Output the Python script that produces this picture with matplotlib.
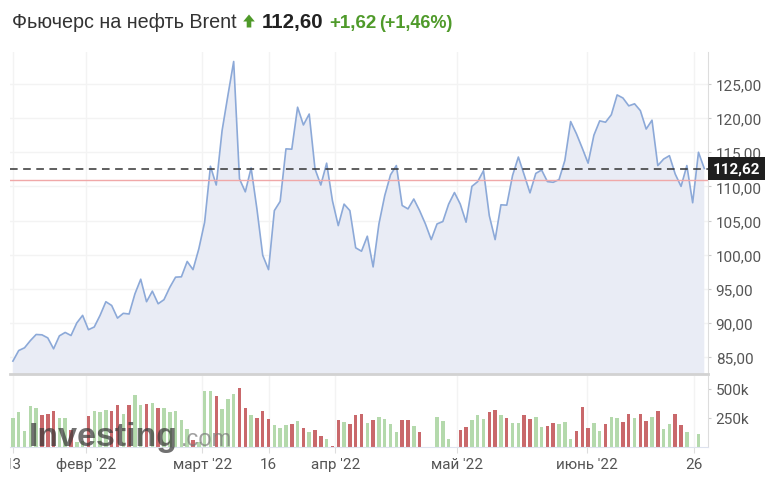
import numpy as np
import matplotlib.pyplot as plt
from matplotlib.patches import Polygon
from matplotlib.transforms import blended_transform_factory, Bbox, TransformedBbox, IdentityTransform

plt.rcParams['font.family'] = ['Roboto', 'DejaVu Sans']

# дневные цены закрытия (с 13 янв. по конец июня 2022)
price = [84.4, 85.95, 86.35, 87.4, 88.3, 88.25, 87.8, 86.2, 88.1, 88.6,
         88.15, 90.0, 91.1, 89.0, 89.4, 91.1, 93.1, 92.55, 90.7, 91.4,
         91.3, 94.25, 96.4, 93.1, 94.65, 92.8, 93.4, 95.2, 96.7, 96.75,
         99.0, 97.8, 100.85, 104.75, 112.95, 110.2, 118.15, 123.3, 128.3, 111.1,
         109.2, 112.7, 106.7, 99.9, 97.8, 106.45, 107.8, 115.5, 115.45, 121.6,
         119.0, 120.6, 112.55, 110.2, 113.4, 107.9, 104.25, 107.4, 106.45, 101.0,
         100.5, 102.7, 98.2, 104.5, 108.65, 111.7, 113.05, 107.2, 106.7, 108.15,
         106.45, 104.5, 102.2, 104.5, 104.85, 107.4, 109.1, 107.4, 104.75, 110.0,
         110.7, 112.3, 105.7, 102.2, 107.3, 107.25, 111.6, 114.3, 111.7, 109.05,
         111.9, 112.4, 110.7, 110.6, 111.0, 113.8, 119.5, 117.7, 115.6, 113.4,
         117.5, 119.6, 119.4, 120.5, 123.4, 122.95, 121.8, 122.1, 121.1, 118.4,
         119.7, 113.05, 114.0, 114.5, 111.8, 110.0, 113.05, 107.6, 115.0, 112.62]

# объём, тыс. контрактов
volume_k = [253, 299, 135, 351, 335, 276, 284, 308, 253, 253,
            150, 40, 55, 264, 307, 299, 319, 307, 365, 284,
            365, 448, 365, 374, 379, 336, 336, 300, 307, 236,
            155, 57, 40, 480, 480, 442, 328, 414, 457, 509,
            336, 276, 250, 307, 241, 187, 164, 190, 198, 221,
            164, 126, 146, 92, 69, 6, 233, 213, 198, 276,
            284, 207, 233, 261, 241, 198, 126, 233, 233, 178,
            126, 0, 0, 261, 221, 69, 4, 146, 175, 233,
            276, 241, 299, 319, 276, 250, 207, 207, 276, 241,
            261, 175, 184, 207, 198, 218, 69, 135, 348, 164,
            207, 135, 198, 261, 250, 213, 284, 250, 284, 221,
            261, 307, 155, 198, 284, 190, 126, 0, 112, 0]

tick_pos = [0, 12.6, 32.6, 44.0, 55.5, 76.5, 98.8, 117.2]
tick_labels = ["13", "февр '22", "март '22", "16", "апр '22", "май '22", "июнь '22", "26"]
price_ticks = [85, 90, 95, 100, 105, 110, 115, 120, 125]
vol_ticks = [250, 500]
last_price = 112.62
prev_close = 110.98

W, H = 776, 485
fig = plt.figure(figsize=(W / 100, H / 100), dpi=100)


def px_box(l, t, r, b):
    return [l / W, 1 - b / H, (r - l) / W, (b - t) / H]


def fx(x):
    return x / W


def fy(y):
    return 1 - y / H


ax = fig.add_axes(px_box(10, 53, 708, 375))
axv = fig.add_axes(px_box(10, 377, 708, 448), sharex=ax)

x = np.arange(len(price))

# цена
ax.fill_between(x, price, 0, color='#e9ecf5', lw=0)
ax.plot(x, price, color='#8ca9d8', lw=1.2)
ax.axhline(prev_close, color='#f0a8a8', lw=1)
ax.axhline(last_price, color='#333333', lw=1.1, dashes=(5, 3.6))

ax.set_xlim(-0.5, 119.64)
ax.set_ylim(82.51, 129.69)
ax.set_yticks(price_ticks)
ax.set_yticklabels([f"{v:.2f}".replace('.', ',') for v in price_ticks])
ax.yaxis.tick_right()
ax.tick_params(axis='y', length=2.5, color='#cccccc', labelcolor='#555555', labelsize=11, pad=3)
ax.tick_params(axis='x', bottom=False, labelbottom=False)
ax.grid(color='#f3f3f3', lw=1)
ax.set_axisbelow(True)
for s in ['top', 'left']:
    ax.spines[s].set_visible(False)
ax.spines['right'].set_color('#dddddd')
ax.spines['bottom'].set_color('#d2d2d2')
ax.spines['bottom'].set_linewidth(2)

blend = blended_transform_factory(ax.transAxes, ax.transData)
ax.annotate("112,62", xy=(1.0, last_price), xycoords=blend, xytext=(3.6, 0),
            textcoords='offset points', ha='left', va='center', color='white',
            fontsize=11, fontweight='bold', annotation_clip=False, zorder=6,
            bbox=dict(boxstyle='square,pad=0.3', fc='#1f1f1f', ec='none'))

# объём
colors = ['#b4d9ac' if i == 0 or price[i] >= price[i - 1] else '#c9686b' for i in range(len(price))]
axv.bar(x, volume_k, width=0.6, color=colors, lw=0)
axv.set_ylim(0, 612)
axv.set_yticks(vol_ticks)
axv.set_yticklabels([f"{v}k" for v in vol_ticks])
axv.yaxis.tick_right()
axv.tick_params(axis='y', length=2.5, color='#cccccc', labelcolor='#555555', labelsize=11, pad=3)
axv.set_xticks(tick_pos)
axv.set_xticklabels(tick_labels)
axv.tick_params(axis='x', length=4.5, color='#dddddd', labelcolor='#555555', labelsize=11, pad=3)
axv.grid(axis='x', color='#f3f3f3', lw=1)
axv.set_axisbelow(True)
for s in ['top', 'left']:
    axv.spines[s].set_visible(False)
axv.spines['right'].set_color('#dddddd')
axv.spines['bottom'].set_color('#dde2ee')

# у левого края подпись обрезана
clip = TransformedBbox(Bbox.from_extents(10, 0, W, H), IdentityTransform())
first = axv.xaxis.get_major_ticks()[0]
first.label1.set_clip_on(True)
first.label1.set_clip_box(clip)

# водяной знак
fig.text(fx(29), fy(446), "Investing", fontsize=24.5, fontweight='bold',
         family='Liberation Sans', color='#3a3a3a', alpha=0.72, va='baseline')
fig.text(fx(181), fy(446), ".com", fontsize=17, family='Liberation Sans',
         color='#777777', alpha=0.7, va='baseline')

# заголовок
fig.text(fx(12), fy(27.7), "Фьючерс на нефть Brent", fontsize=14.2, family='Liberation Sans',
         color='#333333', va='baseline')
arrow = [(249, 15.5), (254.8, 22.5), (251.3, 22.5), (251.3, 28.5), (246.7, 28.5), (246.7, 22.5), (243.2, 22.5)]
fig.add_artist(Polygon([(fx(a), fy(b)) for a, b in arrow], closed=True,
                       transform=fig.transFigure, color='#4f9a2a', lw=0))
fig.text(fx(262), fy(27.7), "112,60", fontsize=14.8, fontweight='bold', family='Liberation Sans',
         color='#222222', va='baseline')
fig.text(fx(329), fy(27.7), "+1,62", fontsize=13.5, fontweight='bold', family='Liberation Sans',
         color='#4f9a2a', va='baseline')
fig.text(fx(379), fy(27.7), "(+1,46%)", fontsize=13, fontweight='bold', family='Liberation Sans',
         color='#4f9a2a', va='baseline')

fig.savefig("out.png", dpi=100)
